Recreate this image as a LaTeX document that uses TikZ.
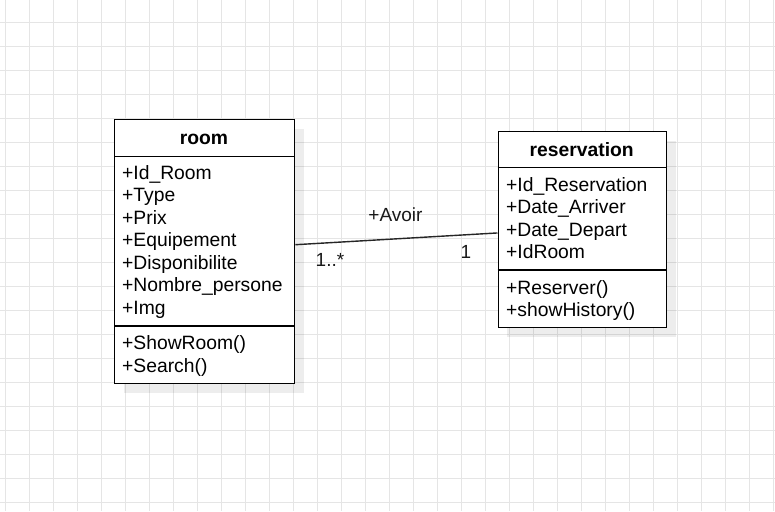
\documentclass[tikz,border=0pt]{standalone}
\usepackage{fontspec}
\setmainfont{Liberation Sans}
\begin{document}
\begin{tikzpicture}[x=1pt,y=-1pt,
  gridline/.style={draw=black!10, line width=1pt},
  classbox/.style={draw=black, line width=1.4pt, fill=white, inner sep=0pt, anchor=north west},
  shadowbox/.style={fill=black, fill opacity=0.07, draw=none},
  divider/.style={draw=black, line width=1.2pt},
  txt/.style={anchor=base west, inner sep=0pt, font=\fontsize{19.3}{22.5}\selectfont},
  ttl/.style={anchor=base, inner sep=0pt, font=\fontsize{19.3}{22.5}\selectfont\bfseries},
  lbl/.style={anchor=base, inner sep=0pt, font=\fontsize{19}{22}\selectfont, text=black!90},
  assoc/.style={draw=black!85, line width=1.4pt}
]
\useasboundingbox (0,0) rectangle (775,511);
\fill[white] (0,0) rectangle (775,511);
% grid
\foreach \i in {0,...,32} { \draw[gridline] ({5.7+24*\i},0) -- ({5.7+24*\i},511); }
\foreach \j in {0,...,21} { \draw[gridline] (0,{-1.3+24*\j}) -- (775,{-1.3+24*\j}); }

% shadows
\fill[shadowbox] (124,129) rectangle (304,393);
\fill[shadowbox] (507,141) rectangle (676,337);

% room class
\node[classbox, minimum width=180pt, minimum height=264pt] (room) at (114,119) {};
\draw[divider] (114,156.5) -- (294,156.5);
\draw[divider] (114,326) -- (294,326);
\node[ttl] (roomT) at (204,144.3) {room};
\node[txt] (r1) at (122,179) {+Id\_Room};
\node[txt] (r2) at (122,201.5) {+Type};
\node[txt] (r3) at (122,224) {+Prix};
\node[txt] (r4) at (122,246.5) {+Equipement};
\node[txt] (r5) at (122,269) {+Disponibilite};
\node[txt] (r6) at (122,291.5) {+Nombre\_persone};
\node[txt] (r7) at (122,314) {+Img};
\node[txt] (r8) at (122,349.5) {+ShowRoom()};
\node[txt] (r9) at (122,372) {+Search()};

% reservation class
\node[classbox, minimum width=168.5pt, minimum height=195.5pt] (resv) at (497.5,131) {};
\draw[divider] (497.5,167.7) -- (666,167.7);
\draw[divider] (497.5,270) -- (666,270);
\node[ttl] (resT) at (581.7,156) {reservation};
\node[txt] (s1) at (506,191) {+Id\_Reservation};
\node[txt] (s2) at (506,213.5) {+Date\_Arriver};
\node[txt] (s3) at (506,236) {+Date\_Depart};
\node[txt] (s4) at (506,258.5) {+IdRoom};
\node[txt] (s5) at (506,294) {+Reserver()};
\node[txt] (s6) at (506,316.5) {+showHistory()};

% association
\draw[assoc] ([yshift=7pt]room.east) -- ([yshift=-3.5pt]resv.west);
\node[lbl] (avoir) at (395.5,221.7) {+Avoir};
\node[lbl] (m1) at (330,266.7) {1..*};
\node[lbl] (m2) at (466,258) {1};
\end{tikzpicture}
\end{document}
